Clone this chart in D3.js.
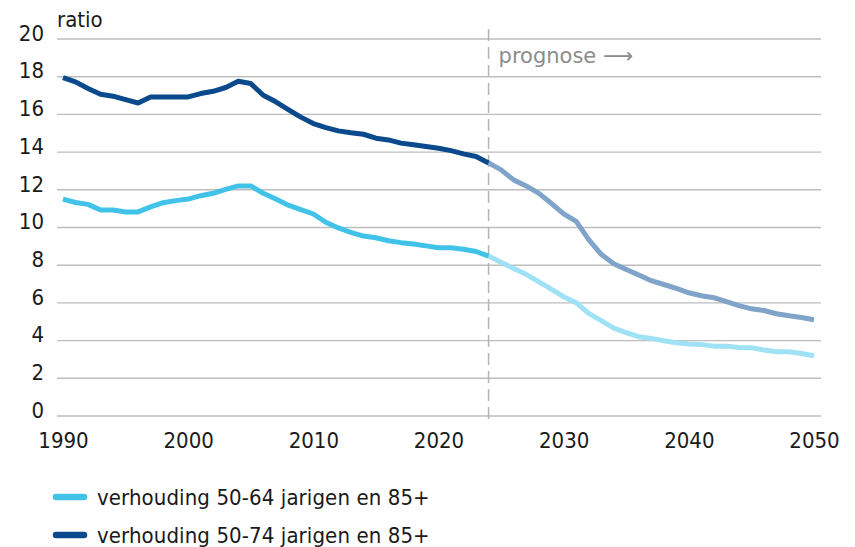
<!DOCTYPE html>
<html>
<head>
<meta charset="utf-8">
<script src="https://cdn.jsdelivr.net/npm/d3@7"></script>
<style>
  body { margin: 0; background: #fff; }
  text { font-family: "DejaVu Sans Condensed", "DejaVu Sans", sans-serif; fill: #1a1a1a; }
</style>
</head>
<body>
<div id="chart"></div>
<script>
// Define SVG area dimensions
var svgWidth = 855;
var svgHeight = 547;

// data
var histYears = d3.range(1990, 2025);
var progYears = d3.range(2024, 2051);

var light50_64Hist = [11.48, 11.3, 11.2, 10.9, 10.9, 10.8, 10.8, 11.07, 11.29, 11.4,
  11.48, 11.66, 11.79, 12.0, 12.18, 12.18, 11.79, 11.48, 11.16, 10.92,
  10.69, 10.25, 9.95, 9.72, 9.52, 9.43, 9.27, 9.17, 9.1, 9.0,
  8.9, 8.9, 8.82, 8.7, 8.46];
var light50_64Prog = [8.46, 8.13, 7.8, 7.49, 7.1, 6.7, 6.3, 5.98, 5.42, 5.03,
  4.63, 4.4, 4.18, 4.09, 3.97, 3.86, 3.79, 3.77, 3.68, 3.68,
  3.61, 3.6, 3.47, 3.38, 3.38, 3.29, 3.17];

var dark50_74Hist = [17.93, 17.7, 17.35, 17.04, 16.94, 16.76, 16.58, 16.9, 16.9, 16.9,
  16.9, 17.08, 17.2, 17.4, 17.73, 17.61, 16.99, 16.64, 16.23, 15.83,
  15.49, 15.27, 15.1, 15.0, 14.92, 14.71, 14.62, 14.45, 14.36, 14.27,
  14.18, 14.05, 13.88, 13.74, 13.4];
var dark50_74Prog = [13.4, 13.03, 12.5, 12.18, 11.8, 11.26, 10.7, 10.3, 9.33, 8.55,
  8.05, 7.75, 7.45, 7.15, 6.95, 6.74, 6.51, 6.35, 6.25, 6.04,
  5.83, 5.66, 5.57, 5.4, 5.29, 5.2, 5.08];

var xTicks = [1990, 2000, 2010, 2020, 2030, 2040, 2050];
var yTicks = [0, 2, 4, 6, 8, 10, 12, 14, 16, 18, 20];
var prognoseYear = 2024;

var legendLabels = ["verhouding 50-64 jarigen en 85+", "verhouding 50-74 jarigen en 85+"];

// colours
var lightColor = "#41c3e9";
var lightProgColor = "#9fe2f5";
var darkColor = "#0a4a8c";
var darkProgColor = "#7fa3c9";

var svg = d3.select("#chart")
  .append("svg")
  .attr("width", svgWidth)
  .attr("height", svgHeight);

// scales
var xScale = d3.scaleLinear()
  .domain([1990, 2050])
  .range([63, 814]);

var yScale = d3.scaleLinear()
  .domain([0, 20])
  .range([415.5, 38.5]);

var gridLeft = 57;
var gridRight = 821;

// y axis with grid lines
var yAxis = svg.append("g")
  .attr("transform", `translate(${gridLeft}, 0)`)
  .call(d3.axisLeft(yScale)
    .tickValues(yTicks)
    .tickSize(-(gridRight - gridLeft))
    .tickPadding(13)
    .tickFormat(d3.format("d")));

yAxis.select(".domain").remove();
yAxis.selectAll(".tick line")
  .attr("stroke", "#bdbdbd")
  .attr("stroke-width", 1.4);
yAxis.selectAll(".tick text")
  .attr("dy", "0.08em")
  .attr("font-size", 22)
  .attr("font-family", null)
  .style("fill", "#1a1a1a");

// x axis labels
var xAxis = svg.append("g")
  .attr("transform", `translate(0, ${yScale(0)})`)
  .call(d3.axisBottom(xScale)
    .tickValues(xTicks)
    .tickSize(0)
    .tickPadding(17)
    .tickFormat(d3.format("d")));

xAxis.select(".domain").remove();
xAxis.selectAll(".tick text")
  .attr("font-size", 22)
  .attr("font-family", null)
  .style("fill", "#1a1a1a");

// axis title
svg.append("text")
  .attr("x", gridLeft)
  .attr("y", 27)
  .attr("font-size", 22)
  .text("ratio");

// prognose marker
svg.append("line")
  .attr("x1", xScale(prognoseYear))
  .attr("x2", xScale(prognoseYear))
  .attr("y1", 29)
  .attr("y2", 422)
  .attr("stroke", "#b5b5b5")
  .attr("stroke-width", 1.5)
  .attr("stroke-dasharray", "12,6");

svg.append("text")
  .attr("x", xScale(prognoseYear) + 10)
  .attr("y", 63)
  .attr("font-size", 21)
  .style("font-family", "'DejaVu Sans', sans-serif")
  .style("fill", "#8c8c8c")
  .text("prognose \u27F6");

// lines
var lineGen = d3.line()
  .x(d => xScale(d.year))
  .y(d => yScale(d.value));

function toPoints(years, values) {
  return years.map(function(yr, i) {
    return { year: yr, value: values[i] };
  });
}

var seriesList = [
  { pts: toPoints(progYears, dark50_74Prog), color: darkProgColor },
  { pts: toPoints(progYears, light50_64Prog), color: lightProgColor },
  { pts: toPoints(histYears, dark50_74Hist), color: darkColor },
  { pts: toPoints(histYears, light50_64Hist), color: lightColor }
];

svg.selectAll(".series")
  .data(seriesList)
  .enter()
  .append("path")
  .attr("class", "series")
  .attr("d", d => lineGen(d.pts))
  .attr("fill", "none")
  .attr("stroke", d => d.color)
  .attr("stroke-width", 5)
  .attr("stroke-linejoin", "round")
  .attr("stroke-linecap", "butt");

// legend
var legendColors = [lightColor, darkColor];
var legend = svg.selectAll(".legend")
  .data(legendLabels)
  .enter()
  .append("g")
  .attr("class", "legend")
  .attr("transform", (d, i) => `translate(0, ${497 + i * 38})`);

legend.append("line")
  .attr("x1", 56)
  .attr("x2", 84)
  .attr("y1", 0)
  .attr("y2", 0)
  .attr("stroke", (d, i) => legendColors[i])
  .attr("stroke-width", 6.5)
  .attr("stroke-linecap", "round");

legend.append("text")
  .attr("x", 97)
  .attr("y", 8)
  .attr("font-size", 22)
  .attr("letter-spacing", 0.1)
  .text(d => d);
</script>
</body>
</html>
